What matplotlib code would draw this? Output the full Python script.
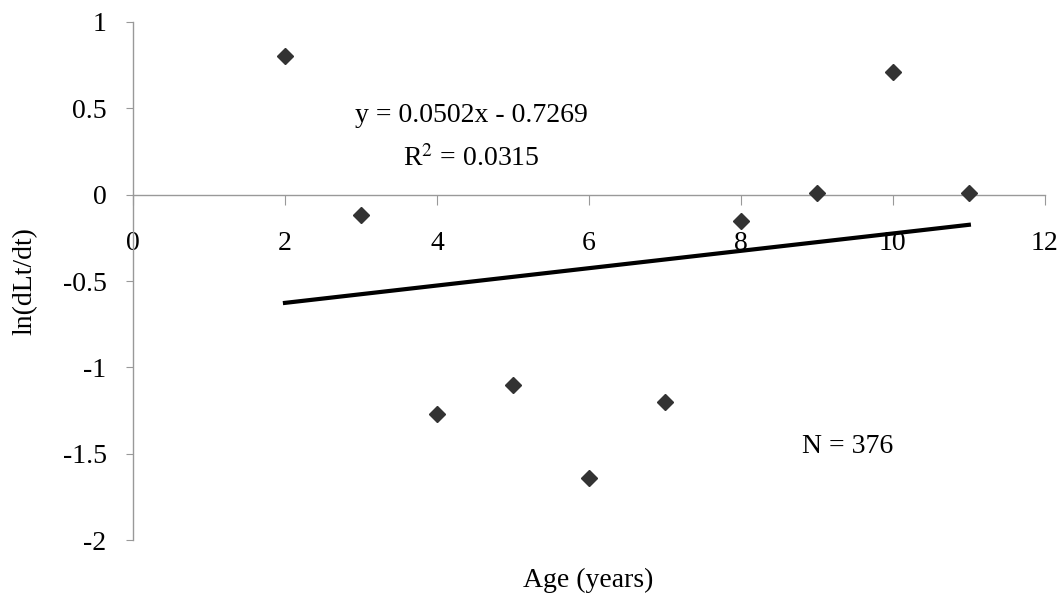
import matplotlib.pyplot as plt
import numpy as np

plt.rcParams['font.family'] = ['Liberation Serif', 'DejaVu Serif']
plt.rcParams['mathtext.fontset'] = 'stix'

# data
age = [2, 3, 4, 5, 6, 7, 8, 9, 10, 11]
ln_growth = [0.80, -0.12, -1.27, -1.10, -1.64, -1.20, -0.15, 0.01, 0.71, 0.01]
slope = 0.0502
intercept = -0.7269
x_ticks = [0, 2, 4, 6, 8, 10, 12]
y_ticks = [-2, -1.5, -1, -0.5, 0, 0.5, 1]
y_tick_labels = ['-2', '-1.5', '-1', '-0.5', '0', '0.5', '1']

fig = plt.figure(figsize=(10.64, 6.05), dpi=100)
ax = fig.add_axes([0.125, 0.107, 0.857, 0.857])

ax.plot(age, ln_growth, 'D', color='#333333', markersize=8.5, zorder=3)

fit_x = np.array([min(age), max(age)])
ax.plot(fit_x, slope * fit_x + intercept, color='black', linewidth=3, zorder=2)

ax.set_xlim(0, 12)
ax.set_ylim(-2, 1)

# Excel-style axes: x axis crosses at y = 0
for side in ['top', 'right']:
    ax.spines[side].set_visible(False)
ax.spines['bottom'].set_position(('data', 0))
ax.spines['bottom'].set_color('#999999')
ax.spines['left'].set_color('#999999')
ax.spines['bottom'].set_linewidth(1)
ax.spines['left'].set_linewidth(1)

ax.set_xticks(x_ticks)
ax.set_yticks(y_ticks)
ax.set_yticklabels(y_tick_labels)
ax.tick_params(axis='x', direction='out', length=7, color='#999999', pad=19, labelsize=20)
ax.tick_params(axis='y', direction='out', length=5, color='#999999', pad=14, labelsize=20)

ax.set_ylabel('ln(dLt/dt)', fontsize=20, labelpad=18)
fig.text(0.553, 0.040, 'Age (years)', ha='center', va='center', fontsize=20)

ax.text(4.45, 0.46, 'y = 0.0502x - 0.7269', ha='center', va='center', fontsize=20)
ax.text(4.45, 0.21, 'R$^{2}$ = 0.0315', ha='center', va='center', fontsize=20)
ax.text(9.4, -1.46, 'N = 376', ha='center', va='center', fontsize=20)

plt.savefig('out.png', dpi=100)
